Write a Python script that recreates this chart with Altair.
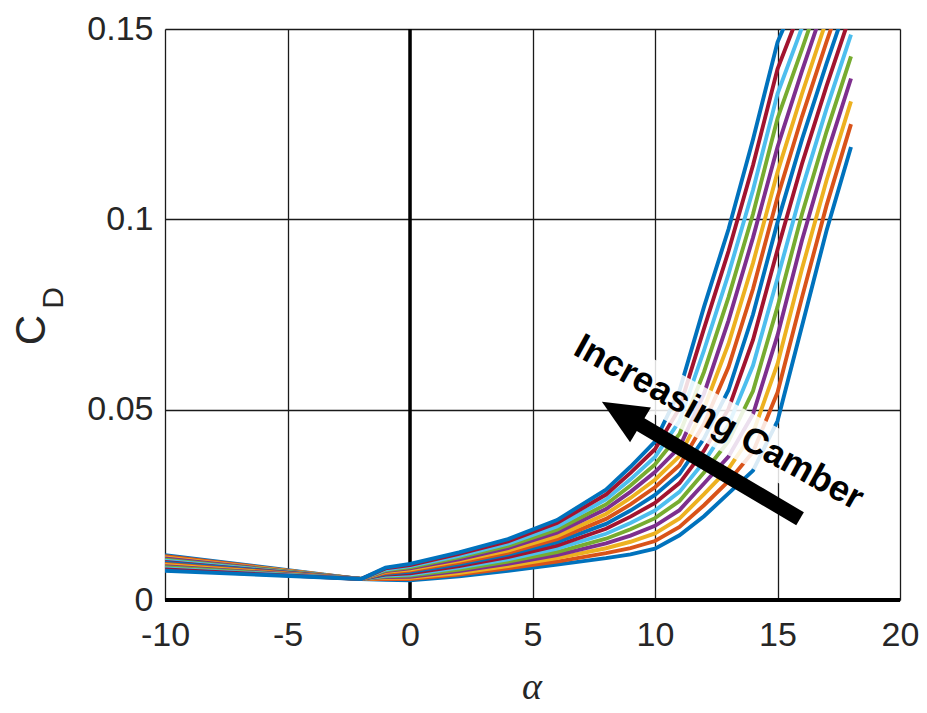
import altair as alt
import pandas as pd

# angle of attack grid (deg)
alpha = [-10, -2, -1, 0, 2, 4, 6, 8, 9, 10, 11, 12, 13, 14, 15, 16, 17, 18]

# drag coefficient, one list per camber (c00 = least camber ... c14 = most camber)
cd_c00 = [.0118, .0055, .0053, .0052, .0062, .0077, .0093, .0110, .0120, .0135, .0170, .0220, .0280, .0340, .0470, .0720, .0970, .1190]
cd_c01 = [.0115, .0055, .0055, .0055, .0067, .0083, .0101, .0123, .0136, .0155, .0192, .0249, .0312, .0389, .0545, .0795, .1036, .1250]
cd_c02 = [.0112, .0055, .0058, .0058, .0071, .0089, .0110, .0136, .0153, .0175, .0214, .0278, .0345, .0439, .0620, .0870, .1102, .1310]
cd_c03 = [.0109, .0055, .0060, .0061, .0076, .0095, .0118, .0149, .0169, .0195, .0236, .0306, .0377, .0488, .0695, .0945, .1168, .1370]
cd_c04 = [.0106, .0055, .0062, .0064, .0080, .0101, .0126, .0161, .0186, .0215, .0260, .0335, .0417, .0549, .0770, .1014, .1230, .1428]
cd_c05 = [.0103, .0055, .0064, .0067, .0085, .0107, .0135, .0174, .0202, .0235, .0284, .0363, .0460, .0616, .0845, .1080, .1290, .1485]
cd_c06 = [.0100, .0055, .0067, .0070, .0089, .0113, .0143, .0187, .0219, .0255, .0307, .0392, .0502, .0683, .0920, .1146, .1350, .1542]
cd_c07 = [.0098, .0055, .0069, .0074, .0094, .0119, .0152, .0200, .0235, .0276, .0331, .0424, .0551, .0750, .0992, .1210, .1409, .1598]
cd_c08 = [.0095, .0055, .0071, .0077, .0098, .0124, .0160, .0213, .0251, .0296, .0354, .0463, .0612, .0817, .1058, .1270, .1466, .1652]
cd_c09 = [.0092, .0055, .0074, .0080, .0103, .0130, .0168, .0226, .0268, .0316, .0378, .0503, .0673, .0885, .1124, .1330, .1523, .1706]
cd_c10 = [.0089, .0055, .0076, .0083, .0107, .0136, .0177, .0239, .0284, .0336, .0401, .0542, .0734, .0952, .1190, .1390, .1580, .1760]
cd_c11 = [.0086, .0055, .0078, .0086, .0112, .0142, .0185, .0251, .0301, .0356, .0436, .0599, .0795, .1014, .1265, .1447, .1634, .1814]
cd_c12 = [.0083, .0055, .0080, .0089, .0116, .0148, .0193, .0264, .0317, .0376, .0470, .0656, .0856, .1077, .1330, .1504, .1688, .1868]
cd_c13 = [.0080, .0055, .0083, .0092, .0121, .0154, .0202, .0277, .0334, .0396, .0504, .0713, .0916, .1142, .1395, .1561, .1742, .1922]
cd_c14 = [.0077, .0055, .0085, .0095, .0125, .0160, .0210, .0290, .0350, .0416, .0550, .0770, .0974, .1210, .1465, .1616, .1796, .1976]

series = [cd_c00, cd_c01, cd_c02, cd_c03, cd_c04, cd_c05, cd_c06, cd_c07,
          cd_c08, cd_c09, cd_c10, cd_c11, cd_c12, cd_c13, cd_c14]
names = [f"c{i:02d}" for i in range(len(series))]

matlab = ["#0072BD", "#D95319", "#EDB120", "#7E2F8E", "#77AC30", "#4DBEEE", "#A2142F"]
line_colors = [matlab[i % 7] for i in range(len(series))]

x_ticks = [-10, -5, 0, 5, 10, 15, 20]
y_ticks = [0, 0.05, 0.1, 0.15]

rows = []
for n, s in zip(names, series):
    for a, c in zip(alpha, s):
        rows.append({"alpha": a, "cd": c, "line": n})
df = pd.DataFrame(rows)

TXT = "#262626"
xs = alt.Scale(domain=[-10, 20], nice=False, zero=False)
ys = alt.Scale(domain=[0, 0.15], nice=False, zero=False)

x_axis = alt.Axis(values=x_ticks, title=None, labelExpr="'' + datum.value", grid=True,
                  ticks=False, domain=False, labelFontSize=34, labelPadding=18,
                  labelColor=TXT, labelFont="Liberation Sans", gridColor="#1a1a1a",
                  gridWidth=1.3, labelFlush=False)
y_axis = alt.Axis(values=y_ticks, title=None, labelExpr="'' + datum.value", grid=True,
                  ticks=False, domain=False, labelFontSize=34, labelPadding=12,
                  labelColor=TXT, labelFont="Liberation Sans", gridColor="#1a1a1a",
                  gridWidth=1.3, labelFlush=False)


def X(field):
    return alt.X(field, scale=xs, axis=x_axis)


def Y(field):
    return alt.Y(field, scale=ys, axis=y_axis)


lines = alt.Chart(df).mark_line(strokeWidth=3.9, clip=True).encode(
    x=X("alpha:Q"),
    y=Y("cd:Q"),
    color=alt.Color("line:N", scale=alt.Scale(domain=names, range=line_colors), legend=None),
    order=alt.Order("alpha:Q"),
)

vrule = alt.Chart(pd.DataFrame({"alpha": [0]})).mark_rule(color="black", strokeWidth=3.5).encode(
    x=X("alpha:Q"))
hrule = alt.Chart(pd.DataFrame({"cd": [0]})).mark_rule(color="black", strokeWidth=4).encode(
    y=Y("cd:Q"))

# annotation: label box, label, arrow
label_pos = pd.DataFrame({"alpha": [12.61], "cd": [0.0466], "t": ["Increasing Camber"]})
box = alt.Chart(label_pos).mark_point(
    shape="M-1,-0.13L1,-0.13L1,0.13L-1,0.13Z", size=136900, angle=29,
    filled=True, fill="white", fillOpacity=0.85, strokeOpacity=0, opacity=1
).encode(x=X("alpha:Q"), y=Y("cd:Q"))
label = alt.Chart(label_pos).mark_text(
    angle=29, fontSize=36, fontWeight="bold", font="Liberation Sans", color="black",
    align="center", baseline="middle"
).encode(x=X("alpha:Q"), y=Y("cd:Q"), text="t:N")

shaft_df = pd.DataFrame({"alpha": [15.92], "cd": [0.02135], "alpha2": [9.31], "cd2": [0.04646]})
shaft = alt.Chart(shaft_df).mark_rule(color="black", strokeWidth=15, strokeCap="butt").encode(
    x=X("alpha:Q"), y=Y("cd:Q"), x2="alpha2:Q", y2="cd2:Q")
head_df = pd.DataFrame({"alpha": [8.62], "cd": [0.04906]})
head = alt.Chart(head_df).mark_point(
    shape="M-1,0L1,-0.9L1,0.9Z", size=2025, angle=31, filled=True,
    fill="black", strokeOpacity=0, opacity=1
).encode(x=X("alpha:Q"), y=Y("cd:Q"))

# axis titles as text marks (C with subscript D, and alpha)
c_lab = alt.Chart(pd.DataFrame({"t": ["C"]})).mark_text(
    angle=270, fontSize=42, font="Liberation Sans", color=TXT, align="center", baseline="middle"
).encode(x=alt.value(-133), y=alt.value(301), text="t:N")
d_lab = alt.Chart(pd.DataFrame({"t": ["D"]})).mark_text(
    angle=270, fontSize=30, font="Liberation Sans", color=TXT, align="center", baseline="middle"
).encode(x=alt.value(-111), y=alt.value(269), text="t:N")
a_lab = alt.Chart(pd.DataFrame({"t": ["α"]})).mark_text(
    fontSize=38, font="Liberation Serif", fontStyle="italic", color=TXT,
    align="center", baseline="middle"
).encode(x=alt.value(367), y=alt.value(659), text="t:N")

chart = alt.layer(vrule, hrule, lines, box, label, shaft, head, c_lab, d_lab, a_lab).properties(
    width=735, height=571,
    autosize=alt.AutoSizeParams(type="none"),
    padding={"left": 157, "top": 21, "right": 19, "bottom": 110},
).configure_view(stroke="#262626", strokeWidth=1.5).configure(background="white")

chart.save("out.html", embed_options={"renderer": "svg", "actions": False})
